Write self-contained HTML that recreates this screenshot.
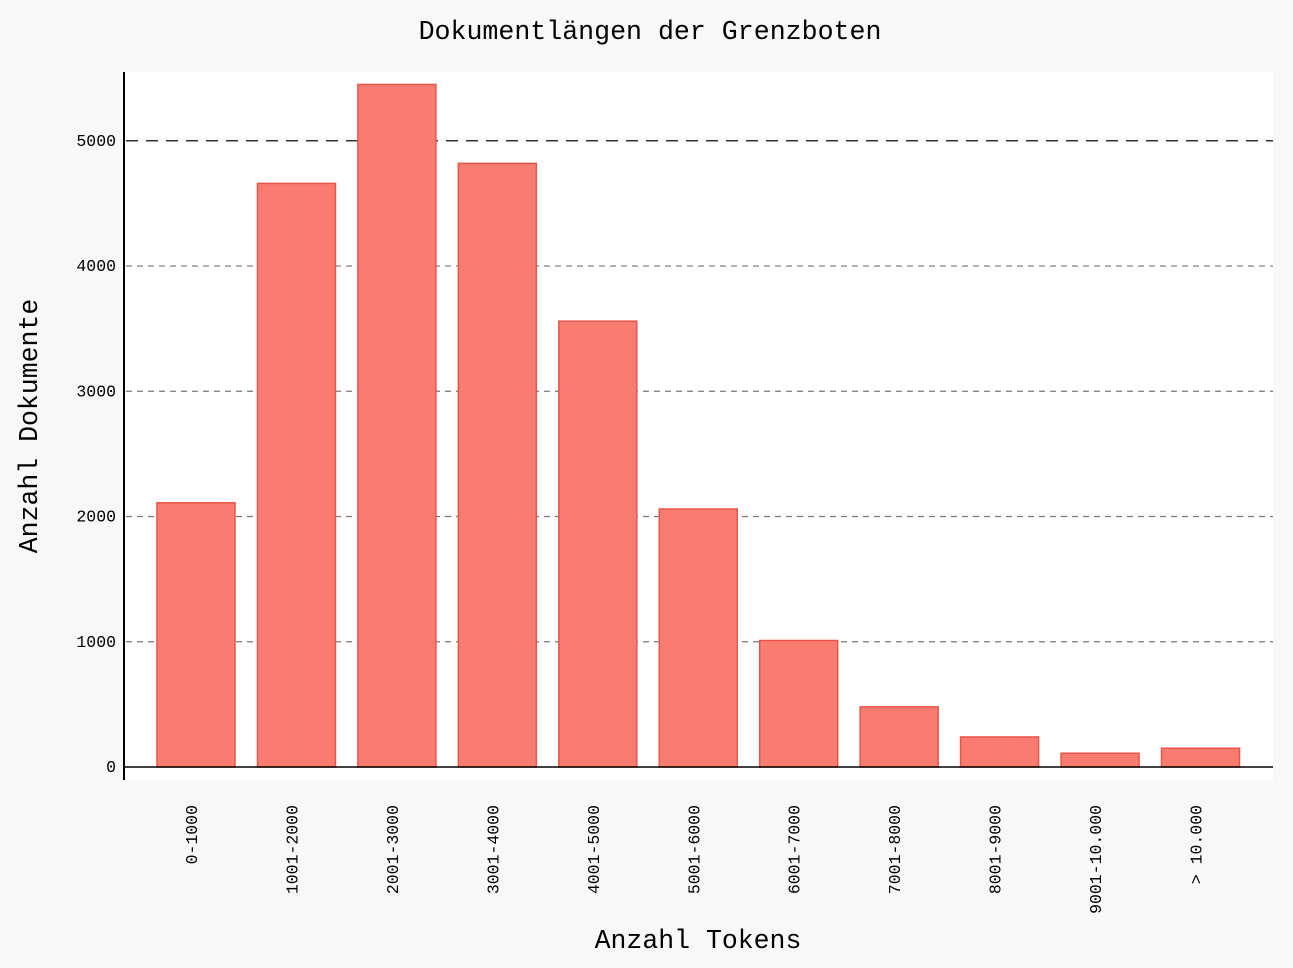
<!DOCTYPE html>
<html><head><meta charset="utf-8"><style>
body{margin:0;background:#f8f8f8;}
svg{display:block;font-family:"Liberation Mono",monospace;}
</style></head><body>
<svg id="chart" width="1293" height="968" viewBox="0 0 1293 968">
<rect x="0" y="0" width="1293" height="968" fill="#f8f8f8"/>
<rect x="124" y="72" width="1149" height="708" fill="#ffffff"/>
<text x="650" y="39" text-anchor="middle" font-size="26.6" fill="#000">Dokumentlängen der Grenzboten</text>
<text transform="translate(37,426) rotate(-90)" text-anchor="middle" font-size="26.5" fill="#000">Anzahl Dokumente</text>
<text x="698" y="948" text-anchor="middle" font-size="26.5" fill="#000">Anzahl Tokens</text>
<g id="grid"></g><g id="bars"></g><g id="ticks"></g>
<line x1="124" y1="72" x2="124" y2="780" stroke="#000" stroke-width="2"/>
<line x1="124" y1="767" x2="1273" y2="767" stroke="#000" stroke-width="1.5"/>
</svg>
<script>
const categories=["0-1000","1001-2000","2001-3000","3001-4000","4001-5000","5001-6000","6001-7000","7001-8000","8001-9000","9001-10.000","> 10.000"];
const counts=[2110,4660,5450,4820,3560,2060,1010,480,240,110,150];
const yTicks=[0,1000,2000,3000,4000,5000];
const NS="http://www.w3.org/2000/svg";
function y(v){return 767-v*0.12524;}
function x(i){return 196+i*100.45;}
function mk(t,a,p){const e=document.createElementNS(NS,t);for(const k in a)e.setAttribute(k,a[k]);p.appendChild(e);return e;}
const grid=document.getElementById('grid'),bars=document.getElementById('bars'),ticks=document.getElementById('ticks');
yTicks.forEach(v=>{
  if(v>0){const l=mk('line',{x1:126,x2:1273,y1:y(v),y2:y(v),stroke:v===5000?'#333':'#777','stroke-width':v===5000?1.5:1.2,'stroke-dasharray':v===5000?'12,8':'6,5'},grid);
  
  }
  const t=mk('text',{x:116,y:y(v)+5,'text-anchor':'end','font-size':16.5,fill:'#000'},ticks);
  
  
  t.textContent=v;
});
counts.forEach((c,i)=>{
  const r=mk('rect',{x:x(i)-39,y:y(c),width:78,height:767-y(c),fill:'#f87c70',stroke:'#e8554b','stroke-width':1.5},bars);
  
  
  const t=mk('text',{transform:`translate(${x(i)+1},805) rotate(-90)`,'text-anchor':'end','font-size':16.5,fill:'#000'},ticks);
  
  
  t.textContent=categories[i];
});
</script>
</body></html>
